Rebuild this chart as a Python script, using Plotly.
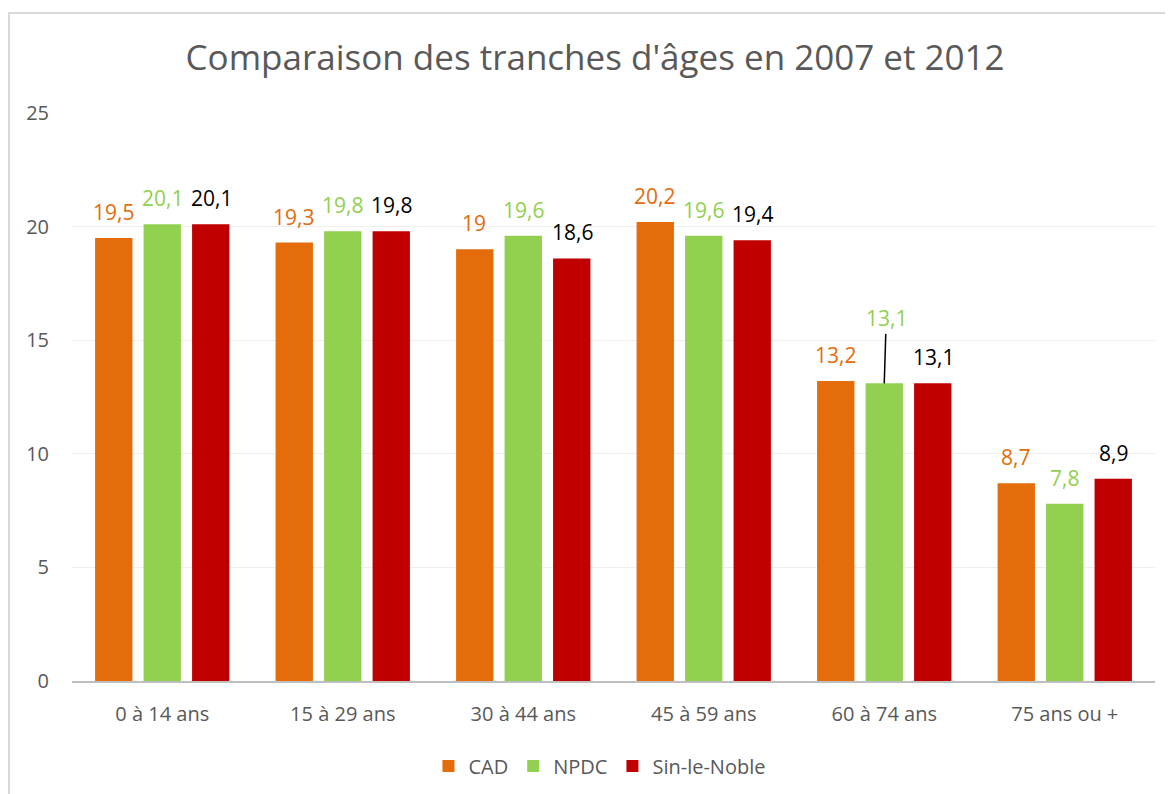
import plotly.graph_objects as go

# Données
categories = ["0 à 14 ans", "15 à 29 ans", "30 à 44 ans", "45 à 59 ans", "60 à 74 ans", "75 ans ou +"]
cad = [19.5, 19.3, 19.0, 20.2, 13.2, 8.7]
npdc = [20.1, 19.8, 19.6, 19.6, 13.1, 7.8]
sin_le_noble = [20.1, 19.8, 18.6, 19.4, 13.1, 8.9]

series = [
    ("CAD", cad, "#E46C0A", "#E46C0A"),
    ("NPDC", npdc, "#92D050", "#92D050"),
    ("Sin-le-Noble", sin_le_noble, "#C00000", "#000000"),
]

fnt = "Open Sans"
grey = "#595959"

fig = go.Figure()
for name, vals, col, _ in series:
    fig.add_trace(go.Bar(name=name, x=categories, y=vals, marker_color=col,
                         marker_line_width=0))

# Étiquettes de données (virgule décimale)
def fmt(v):
    s = f"{v:.1f}".replace(".", ",")
    return s[:-2] if s.endswith(",0") else s

shifts = [-49, 0, 49]
annotations = []
for (name, vals, col, txtcol), dx in zip(series, shifts):
    for cat, v in zip(categories, vals):
        if name == "NPDC" and cat == "60 à 74 ans":
            # étiquette déplacée avec trait de rappel
            annotations.append(dict(x=cat, y=v, text=fmt(v), showarrow=True,
                                    arrowhead=0, arrowwidth=1.5, arrowcolor="black",
                                    ax=2, ay=-65, standoff=0,
                                    font=dict(family=fnt, size=21, color=txtcol)))
            continue
        annotations.append(dict(x=cat, y=v, text=fmt(v), showarrow=False,
                                xshift=dx, yshift=26,
                                font=dict(family=fnt, size=21, color=txtcol)))

fig.update_layout(
    width=1173, height=794,
    paper_bgcolor="white", plot_bgcolor="white",
    margin=dict(l=64, r=26, t=105, b=121),
    barmode="group", bargap=0.194, bargroupgap=0.23,
    title=dict(text="Comparaison des tranches d'âges en 2007 et 2012",
               x=0.5005, xanchor="center", y=0.937, yanchor="middle",
               font=dict(family=fnt, size=35, color=grey)),
    font=dict(family=fnt, size=20, color=grey),
    yaxis=dict(range=[0, 25], dtick=5, showgrid=True, gridcolor="#eeeeee",
               gridwidth=1, zeroline=False, showline=False,
               ticks="", ticklabelstandoff=22, tickfont=dict(size=20, color=grey)),
    xaxis=dict(showline=True, linecolor="#bfbfbf", linewidth=2, ticks="",
               ticklabelstandoff=14, tickfont=dict(size=20, color=grey)),
    legend=dict(orientation="h", x=0.4875, xanchor="center", y=-0.1496,
                yanchor="middle", font=dict(size=20, color=grey),
                itemsizing="constant"),
    annotations=annotations,
    shapes=[dict(type="rect", xref="paper", yref="paper",
                 x0=-0.0582, x1=1.05, y0=-0.3, y1=1.176,
                 line=dict(color="#d9d9d9", width=2), layer="below")],
)

fig.write_html("out.html")
